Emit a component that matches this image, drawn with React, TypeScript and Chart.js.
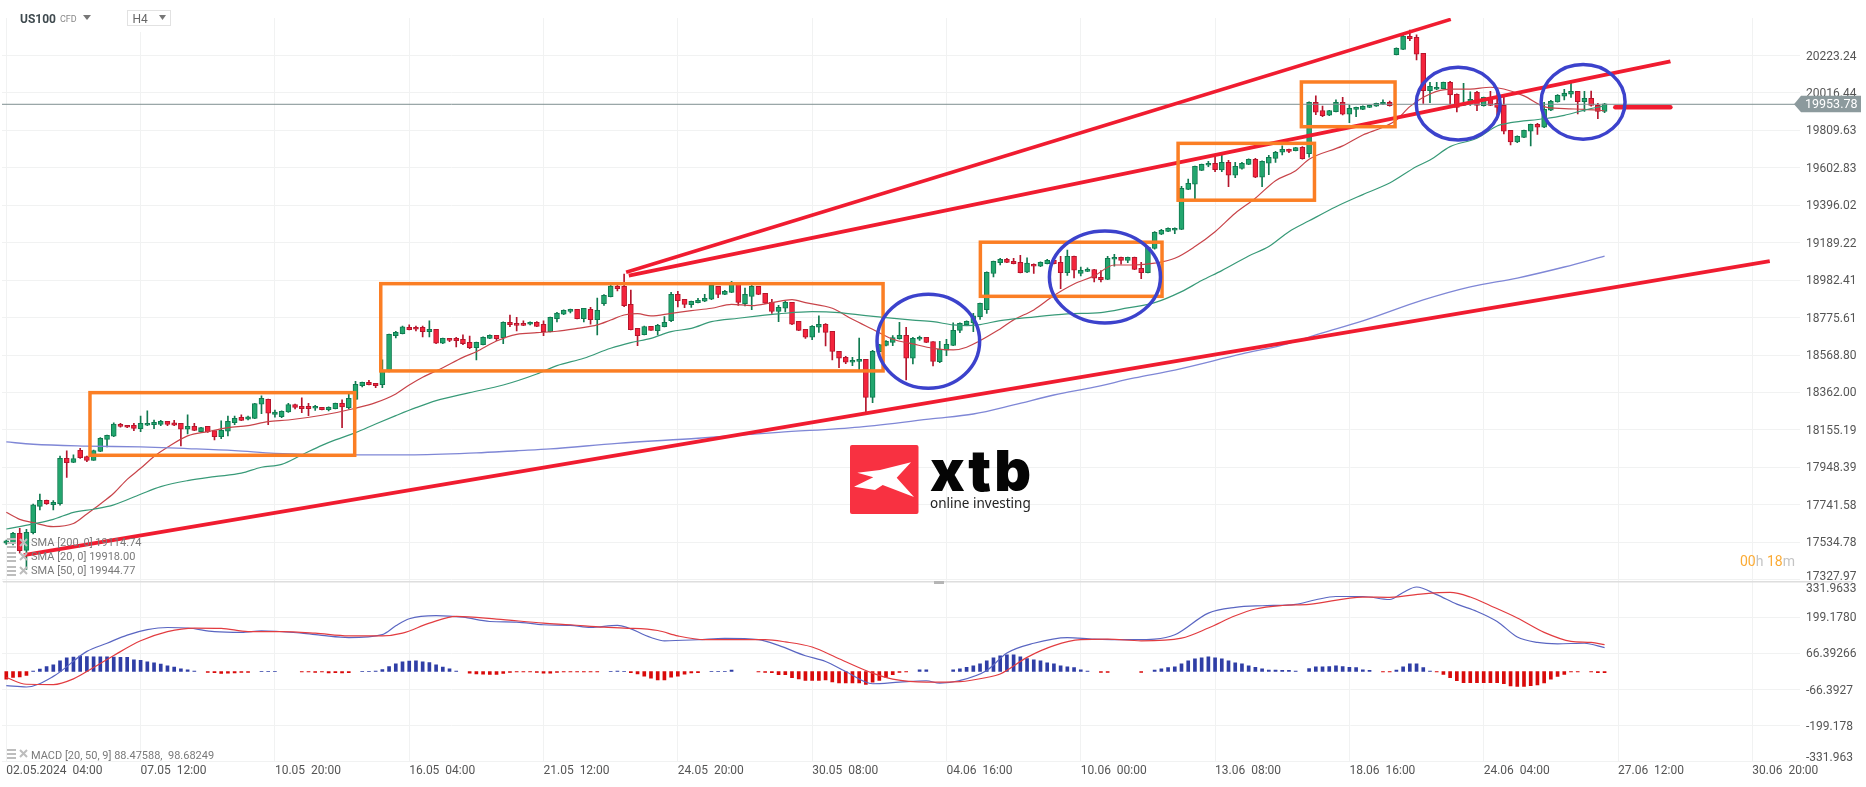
import React, { useEffect, useRef } from 'react';
import { Chart, registerables } from 'chart.js';

Chart.register(...registerables);

// ===== candles (H4, one entry per bar) =====

const opens = [
  17529,17533,17584,17490,17588,17733,17766,17742,17748,17998,
  17976,18043,18008,17987,18037,18103,18120,18186,18181,18181,
  18162,18181,18184,18186,18203,18194,18192,18159,18175,18146,
  18175,18151,18118,18148,18195,18225,18214,18219,18297,18324,
  18241,18228,18254,18295,18286,18286,18275,18280,
  18267,18273,18302,18278,18324,18400,18418,18413,18405,18477,18676,18687,
  18722,18722,18722,18698,18711,18634,18661,18661,18656,18639,
  18610,18626,18661,18678,18665,18750,18744,18744,18739,18750,
  18739,18698,18770,18794,18810,18821,18770,18821,18764,18853,
  18891,18948,18948,18849,18716,18681,
  18727,18704,18726,18759,
  18904,18877,18847,18858,18866,18877,18948,18904,18915,18965,
  18853,18893,18948,18910,18860,18810,18827,18860,18755,18711,
  18667,18722,18739,18700,18589,18556,18529,18534,18545,18335,
  18588,18622,18639,18659,18678,18551,18656,18667,18643,18532,
  18595,18622,18705,18737,
  18746,18781,18820,19019,19079,19098,19087,19081,19026,19070,
  19059,19074,19092,19081,19024,19114,19019,19031,19041,18998,
  18987,19098,19109,19092,19109,19048,19024,19158,19236,19252,
  19258,19263,19484,19512,19589,19617,19628,19591,19633,19562,
  19600,19622,19650,19551,19628,19655,19689,19705,19698,
  19716,19681,19965,19919,19893,19913,19965,19899,19926,19926,
  19937,19944,19954,19965,20228,20257,20329,20324,20235,20029,
  20037,20040,20075,20009,19948,19959,20020,19946,19992,19959,
  19948,19810,19746,19771,19805,19843,19827,19921,19967,19998,
  20009,20026,19968,19987,19948,19915,
];

const highs = [
  17547,17590,17612,17606,17746,17801,17768,17765,18011,18039,
  18017,18054,18011,18044,18113,18127,18194,18192,18181,18192,
  18232,18260,18210,18208,18203,18208,18192,18238,18192,18170,
  18175,18151,18205,18232,18232,18238,18232,18302,18343,18326,
  18265,18260,18302,18298,18332,18302,18291,18280,
  18282,18304,18321,18354,18424,18420,18429,18413,18542,18685,18700,18729,
  18735,18729,18729,18757,18711,18663,18661,18667,18680,18674,
  18641,18669,18680,18678,18752,18790,18777,18757,18752,18753,
  18757,18779,18805,18818,18823,18821,18827,18832,18884,18902,
  18956,18954,19016,18928,18716,18728,
  18727,18739,18781,18915,
  18921,18877,18867,18882,18904,18956,18948,18926,18976,18965,
  18939,18954,18948,18910,18877,18843,18866,18860,18755,18711,
  18731,18785,18742,18700,18589,18562,18556,18663,18545,18595,
  18628,18648,18676,18750,18722,18667,18674,18667,18643,18645,
  18656,18746,18746,18757,
  18799,18856,19028,19088,19103,19103,19103,19120,19105,19072,
  19083,19098,19103,19114,19149,19116,19054,19050,19042,19035,
  19114,19125,19110,19110,19110,19081,19166,19250,19263,19271,
  19271,19501,19540,19613,19624,19639,19672,19678,19644,19633,
  19633,19652,19655,19641,19672,19694,19724,19707,19716,
  19720,19967,20000,19944,19921,19978,19992,19950,19939,19945,
  19950,19961,19978,19972,20265,20337,20364,20337,20235,20075,
  20075,20077,20081,20011,20070,20022,20025,19994,20025,20025,
  19992,19810,19779,19812,19845,19849,19965,19976,20007,20037,
  20075,20026,20026,20027,19959,19959,
];

const lows = [
  17523,17520,17474,17385,17580,17713,17744,17713,17739,17893,
  17974,17998,17980,17986,18035,18061,18118,18170,18168,18151,
  18146,18179,18162,18179,18179,18179,18067,18133,18151,18144,
  18142,18100,18107,18122,18184,18206,18210,18217,18245,18184,
  18225,18223,18252,18271,18251,18234,18263,18265,
  18260,18271,18168,18271,18324,18392,18403,18389,18389,18475,18663,18685,
  18707,18702,18669,18669,18632,18632,18643,18613,18626,18604,
  18542,18624,18659,18648,18632,18726,18702,18731,18735,18726,
  18676,18696,18751,18792,18801,18768,18751,18739,18680,18843,
  18890,18923,18836,18707,18621,18680,
  18705,18680,18724,18753,
  18834,18831,18832,18856,18864,18875,18886,18902,18913,18843,
  18840,18820,18902,18853,18799,18753,18807,18737,18703,18661,
  18654,18693,18619,18542,18499,18521,18510,18486,18256,18306,
  18586,18619,18621,18657,18431,18519,18650,18637,18508,18527,
  18565,18620,18692,18731,
  18698,18766,18798,19000,19066,19079,19072,19022,19024,19019,
  19057,19072,19072,18936,19009,18995,19006,19029,18972,18972,
  18985,19059,19070,19079,19040,18991,19022,19153,19234,19250,
  19239,19261,19482,19431,19587,19609,19582,19582,19499,19549,
  19595,19620,19549,19499,19565,19633,19674,19687,19696,
  19650,19661,19897,19886,19891,19911,19895,19852,19886,19924,
  19935,19942,19952,19944,20226,20255,20305,20199,19959,19963,
  20035,20038,19954,19911,19946,19948,19919,19944,19946,19867,
  19790,19729,19742,19769,19724,19788,19825,19919,19965,19978,
  19992,19900,19915,19943,19874,19908,
];

const closes = [
  17542,17584,17488,17590,17741,17766,17748,17755,17998,17974,
  17997,18002,17986,18041,18109,18125,18188,18175,18170,18164,
  18192,18192,18197,18203,18186,18181,18159,18175,18153,18168,
  18144,18118,18153,18203,18219,18208,18227,18300,18330,18247,
  18254,18258,18295,18280,18273,18273,18286,18267,
  18280,18302,18282,18330,18407,18418,18405,18400,18477,18683,18694,18724,
  18709,18711,18698,18711,18634,18661,18650,18648,18632,18610,
  18639,18667,18678,18659,18750,18737,18733,18733,18750,18727,
  18698,18777,18801,18816,18821,18770,18827,18764,18816,18899,
  18950,18936,18842,18709,18676,18726,
  18705,18733,18750,18904,
  18869,18849,18866,18871,18882,18954,18904,18921,18959,18860,
  18904,18948,18904,18855,18810,18832,18860,18739,18705,18667,
  18727,18739,18694,18589,18551,18529,18540,18545,18335,18589,
  18626,18645,18665,18678,18551,18661,18667,18639,18534,18600,
  18628,18705,18744,18755,
  18785,18855,19026,19087,19098,19081,19074,19024,19076,19059,
  19081,19092,19074,19024,19114,19037,19037,19042,18993,18985,
  19103,19109,19092,19109,19042,19024,19164,19247,19258,19269,
  19269,19490,19517,19611,19622,19628,19593,19633,19562,19611,
  19628,19650,19551,19639,19661,19689,19705,19694,19714,
  19654,19965,19910,19891,19919,19965,19899,19932,19937,19943,
  19948,19959,19965,19946,20263,20331,20316,20230,20029,20053,
  20048,20075,20005,19937,19959,19981,19948,19992,19948,19937,
  19805,19746,19777,19810,19843,19827,19926,19970,20003,20014,
  20026,19968,19987,19948,19915,19957,
];

// ===== moving averages, read at the bars named in the *Bars arrays =====

const sma20Bars = [0,2,4,7,10,12,14,16,18,20,22,24,27,30,33,36,39,42,47,52,55,58,60,62,65,68,70,73,76,79,82,85,88,90,92,94,96,99,102,105,108,111,114,117,119,123,126,129,132,135,138,141,143,148,150,153,156,159,162,165,168,171,174,177,180,183,186,189,192,194,199,202,205,207,209,212,215,218,221,223,226,229,232,235,238];
const sma20 = [17700,17661,17643,17621,17638,17691,17746,17805,17882,17943,18008,18059,18122,18146,18168,18179,18201,18210,18236,18275,18306,18354,18403,18446,18499,18556,18587,18646,18683,18692,18700,18716,18735,18762,18790,18797,18785,18799,18814,18827,18849,18842,18858,18875,18858,18827,18766,18711,18656,18630,18606,18597,18612,18713,18763,18818,18897,18961,19006,19066,19066,19076,19103,19168,19250,19352,19435,19532,19587,19650,19724,19784,19827,19867,19941,20011,20037,20038,20048,20038,20000,19941,19930,19926,19918];

const sma50Bars = [0,4,7,10,13,16,20,23,27,31,35,38,41,44,47,49,52,55,58,61,64,69,74,79,82,86,90,93,96,99,102,105,109,112,115,120,124,128,131,135,138,141,143,145,148,152,158,163,167,171,175,178,181,185,188,191,194,198,202,206,210,212,215,219,222,224,229,232,235,238];
const sma50 = [17608,17636,17661,17700,17717,17741,17800,17842,17875,17897,17916,17949,17965,18017,18070,18100,18140,18188,18234,18278,18317,18361,18403,18464,18510,18551,18606,18637,18661,18698,18716,18753,18772,18785,18796,18808,18803,18786,18775,18762,18753,18735,18731,18737,18759,18775,18796,18803,18829,18858,18919,18980,19035,19116,19168,19250,19310,19388,19455,19519,19610,19646,19720,19766,19834,19852,19874,19893,19922,19945];

const sma200Bars = [0,4,12,20,27,34,40,47,52,60,70,76,81,91,103,115,127,138,144,150,156,162,168,174,184,190,196,202,211,218,225,232,238];
const sma200 = [18089,18076,18066,18061,18052,18041,18026,18019,18017,18017,18028,18040,18050,18081,18109,18142,18171,18217,18243,18293,18348,18392,18442,18486,18575,18624,18691,18757,18873,18945,18994,19055,19115];

// ===== MACD pane =====

const histogram = [
  -28,-22,-20,-14,2,9,18,25,39,50,
  53,57,55,54,54,54,53,52,52,43,
  41,36,32,27,21,16,10,6,2,0,
  -3,-4,-7,-6,-5,-3,-3,0,1,1,
  1,0,0,0,-2,-2,-3,-2,-5,-4,
  -5,-4,0,1,1,2,7,18,28,36,
  38,39,36,33,25,16,10,2,0,-6,
  -9,-10,-11,-11,-7,-3,-2,-2,-2,-3,
  -6,-6,-3,-2,-2,-2,-2,-2,-2,0,
  1,2,1,-4,-9,-17,-25,-31,-31,-21,
  -17,-10,-5,-4,0,1,1,1,5,0,
  0,0,-2,-3,-4,-12,-12,-23,-27,-33,
  -33,-33,-31,-38,-42,-42,-42,-42,-48,-39,
  -33,-22,-12,-3,-2,0,6,6,0,0,
  0,6,10,15,21,28,39,50,58,61,
  61,54,48,43,39,32,28,21,17,14,
  6,2,0,-3,-3,0,0,0,0,-3,
  0,5,10,14,17,28,39,47,50,54,
  50,47,39,32,28,21,15,10,5,5,
  4,4,2,0,11,17,17,18,21,18,
  15,14,6,4,0,-2,-2,5,17,28,
  28,14,2,-2,-11,-23,-34,-41,-41,-41,
  -41,-41,-41,-45,-53,-55,-55,-52,-49,-42,
  -28,-18,-11,-2,-2,0,-2,-4,-4,
];

const macdBars = [0,3,7,12,15,18,21,24,27,31,35,38,44,47,51,56,58,60,64,68,72,76,80,84,87,91,96,98,103,107,112,115,119,122,125,129,133,137,139,142,146,149,153,158,162,168,171,174,179,183,187,192,195,198,202,206,208,210,213,216,219,222,225,228,231,235,238];
const macdLine = [-52,-57,-18,74,104,134,154,162,160,147,144,150,141,133,125,136,168,194,206,200,184,182,172,170,162,170,125,113,117,122,117,96,58,37,0,-45,-39,-34,-43,-33,4,68,104,125,119,117,119,135,215,236,242,247,264,276,276,265,291,311,283,248,221,184,127,107,102,104,88];

const signalBars = [0,3,7,10,13,16,20,24,28,32,36,41,46,51,56,59,63,67,73,80,84,89,92,97,100,104,113,116,120,124,129,132,137,142,146,148,152,156,160,164,169,175,179,183,186,190,194,202,206,211,215,218,221,225,229,233,236,238];
const signalLine = [-22,-47,-48,-27,15,59,113,147,160,159,147,147,141,131,131,141,178,203,193,178,172,163,160,151,131,117,117,109,90,47,-6,-28,-39,-37,-22,-9,52,95,117,119,113,123,160,205,230,243,247,274,273,286,291,274,242,197,144,111,107,99];

// ===== axes =====

const priceTicks = [20223.24,20016.44,19809.63,19602.83,19396.02,19189.22,18982.41,18775.61,18568.80,18362.00,18155.19,17948.39,17741.58,17534.78,17327.97];
const macdTicks = [331.9633,199.1780,66.39266,-66.3927,-199.178,-331.963];
const macdTickLabels = ['331.9633','199.1780','66.39266','-66.3927','-199.178','-331.963'];
const dateTickBars = [0,20,40,60,80,100,120,140,160,180,200,220,240,260];
const dateTickLabels = ['02.05.2024  04:00','07.05  12:00','10.05  20:00','16.05  04:00','21.05  12:00','24.05  20:00','30.05  08:00','04.06  16:00','10.06  00:00','13.06  08:00','18.06  16:00','24.06  04:00','27.06  12:00','30.06  20:00'];
const lastPrice = 19953.78;

// ===== drawn analysis: trend lines, boxes, circles (bar index / price) =====

const trendUpper = [[92.3,19026],[215.1,20423]];
const trendMiddle = [[92.7,19007],[247.8,20191]];
const trendLower = [[2.6,17464],[262.6,19088]];
const flatMarker = [[239.6,19937],[247.8,19937]];
const orangeBoxes = [
  [12.46,18361,51.88,18015],
  [55.76,18963,130.56,18481],
  [145.05,19192,172.1,18893],
  [174.49,19738,194.8,19424],
  [192.85,20077,206.8,19830],
];
const blueCircles = [
  [137.3,18645,7.64,260],
  [163.6,19000,8.27,254],
  [216.2,19957,6.25,201],
  [234.8,19967,6.25,206],
];
const legendLines = ['SMA [200, 0] 19114.74','SMA [20, 0] 19918.00','SMA [50, 0] 19944.77'];

const FONT = 'Roboto';
const GREEN = '#22a66e';
const GREEN_DARK = '#107a50';
const RED = '#f4243c';
const RED_DARK = '#b5152c';
const TREND = '#f01c30';

const pts = (bars: number[], vals: number[]) => bars.map((b, i) => ({ x: b, y: vals[i] }));
const pairs = (p: number[][]) => p.map(([x, y]) => ({ x, y }));
const bars = opens.map((_, i) => i);

const lineDs = (data: any[], color: string, width: number, order: number, yAxisID = 'y', extra: any = {}) => ({
  type: 'line' as const,
  data,
  yAxisID,
  order,
  borderColor: color,
  borderWidth: width,
  pointRadius: 0,
  cubicInterpolationMode: 'monotone' as const,
  ...extra,
});

// boxes and circles go on top of the series
const overlayPlugin = {
  id: 'overlay',
  afterLayout(chart: any) {
    // the price axis has no width of its own, but its labels are clipped to its box
    chart.scales.y.right = chart.width;
  },
  afterDatasetsDraw(chart: any) {
    const { ctx, scales } = chart;
    const x = scales.x;
    const y = scales.y;
    ctx.save();
    ctx.strokeStyle = '#fb7e24';
    ctx.lineWidth = 3.5;
    ctx.lineJoin = 'miter';
    orangeBoxes.forEach(([x0, p0, x1, p1]) => {
      const l = x.getPixelForValue(x0);
      const t = y.getPixelForValue(p0);
      ctx.strokeRect(l, t, x.getPixelForValue(x1) - l, y.getPixelForValue(p1) - t);
    });
    ctx.strokeStyle = '#3c42cc';
    blueCircles.forEach(([cx, cp, rx, rp]) => {
      const px = x.getPixelForValue(cx);
      const py = y.getPixelForValue(cp);
      ctx.beginPath();
      ctx.ellipse(px, py, x.getPixelForValue(cx + rx) - px, py - y.getPixelForValue(cp + rp), 0, 0, Math.PI * 2);
      ctx.stroke();
    });
    ctx.restore();
  },
};

function triangle(ctx: CanvasRenderingContext2D, x: number, y: number, w: number, h: number, color: string) {
  ctx.fillStyle = color;
  ctx.beginPath();
  ctx.moveTo(x, y);
  ctx.lineTo(x + w, y);
  ctx.lineTo(x + w / 2, y + h);
  ctx.closePath();
  ctx.fill();
}

function legendIcons(ctx: CanvasRenderingContext2D, y: number) {
  ctx.fillStyle = '#bdbdbd';
  ctx.fillRect(7, y - 5, 9, 2);
  ctx.fillRect(7, y - 1, 9, 2);
  ctx.fillRect(7, y + 3, 9, 2);
  ctx.strokeStyle = '#bdbdbd';
  ctx.lineWidth = 2;
  ctx.beginPath();
  ctx.moveTo(20, y - 4);
  ctx.lineTo(27, y + 3);
  ctx.moveTo(27, y - 4);
  ctx.lineTo(20, y + 3);
  ctx.stroke();
}

// header, legends, price tag, countdown, logo
const chromePlugin = {
  id: 'chrome',
  afterDraw(chart: any) {
    const { ctx, scales } = chart;
    ctx.save();
    ctx.textBaseline = 'middle';
    ctx.textAlign = 'left';

    // header
    ctx.fillStyle = '#fff';
    ctx.fillRect(128, 8, 44, 24);
    ctx.fillStyle = '#3f4a4f';
    ctx.font = `bold 12px ${FONT}`;
    ctx.fillText('US100', 20, 20);
    ctx.fillStyle = '#888';
    ctx.font = `9px ${FONT}`;
    ctx.fillText('CFD', 60, 20);
    triangle(ctx, 83, 15, 8, 5, '#777');
    ctx.strokeStyle = '#e2e2e2';
    ctx.lineWidth = 1;
    ctx.strokeRect(127.5, 10.5, 43, 15);
    ctx.fillStyle = '#666';
    ctx.font = `12px ${FONT}`;
    ctx.fillText('H4', 132.5, 20);
    triangle(ctx, 159, 15, 7, 5, '#777');

    // pane separator and its handle
    ctx.fillStyle = '#dedede';
    ctx.fillRect(3, 581, 1850, 1.5);
    ctx.fillStyle = '#b5b5b5';
    ctx.fillRect(934, 581, 10, 3);

    // axis labels that sit inside the pane edges
    ctx.fillStyle = '#555';
    ctx.font = `12px ${FONT}`;
    ctx.fillText('17327.97', 1806, 577);
    ctx.fillText(macdTickLabels[0], 1806, 589);
    ctx.fillText(macdTickLabels[5], 1806, 758);

    // indicator legends
    ctx.font = `11px ${FONT}`;
    legendLines.forEach((t, i) => {
      const ly = 543 + i * 14;
      legendIcons(ctx, ly);
      ctx.fillStyle = '#7a7a7a';
      ctx.fillText(t, 31, ly);
    });
    legendIcons(ctx, 754);
    ctx.fillStyle = '#7a7a7a';
    ctx.fillText('MACD [20, 50, 9] 88.47588,  98.68249', 31, 756);

    // last price tag
    const py = scales.y.getPixelForValue(lastPrice);
    ctx.fillStyle = '#8c9a9d';
    ctx.beginPath();
    ctx.moveTo(1794, py);
    ctx.lineTo(1801, py - 8.5);
    ctx.lineTo(1861, py - 8.5);
    ctx.lineTo(1861, py + 8);
    ctx.lineTo(1801, py + 8);
    ctx.closePath();
    ctx.fill();
    ctx.fillStyle = '#fff';
    ctx.font = `12.5px ${FONT}`;
    ctx.fillText(lastPrice.toFixed(2), 1805, py + 1);

    // countdown
    ctx.font = `14px ${FONT}`;
    let cx = 1740;
    [['00', '#fbab35'], ['h ', '#c4c4c4'], ['18', '#fbab35'], ['m', '#c4c4c4']].forEach(([t, c]) => {
      ctx.fillStyle = c;
      ctx.fillText(t, cx, 562);
      cx += ctx.measureText(t).width;
    });

    // logo
    ctx.fillStyle = '#f83141';
    ctx.beginPath();
    ctx.roundRect(850, 445, 68.5, 69, 2);
    ctx.fill();
    ctx.fillStyle = '#fff';
    ctx.beginPath();
    [[911,462.3],[880,470],[857.3,472.7],[873.3,477.3],[854,486.7],[875,490],[882.7,485],[914,497],[896.7,477.7]].forEach(([lx, ly], i) => {
      if (i === 0) ctx.moveTo(lx, ly);
      else ctx.lineTo(lx, ly);
    });
    ctx.closePath();
    ctx.fill();
    ctx.fillStyle = '#050505';
    ctx.textBaseline = 'alphabetic';
    ctx.font = '900 57px Inter';
    (ctx as any).letterSpacing = '3px';
    ctx.fillText('xtb', 930, 491);
    (ctx as any).letterSpacing = '0px';
    ctx.font = '13.5px "Noto Sans"';
    ctx.fillStyle = '#222';
    ctx.fillText('online investing', 930, 508);
    ctx.restore();
  },
};

export default function App() {
  const canvasRef = useRef<HTMLCanvasElement>(null);

  useEffect(() => {
    if (!canvasRef.current) return;
    const ctx = canvasRef.current.getContext('2d');
    if (!ctx) return;

    const up = bars.map(i => closes[i] >= opens[i]);

    const chart = new Chart(ctx, {
      type: 'bar',
      data: {
        datasets: [
          {
            data: bars.map(i => ({ x: i, y: [lows[i], highs[i]] })),
            yAxisID: 'y',
            order: 7,
            barThickness: 1,
            grouped: false,
            backgroundColor: up.map(u => (u ? GREEN_DARK : RED_DARK)),
          },
          {
            data: bars.map(i => ({ x: i, y: [opens[i], closes[i]] })),
            yAxisID: 'y',
            order: 6,
            barThickness: 5,
            grouped: false,
            borderWidth: 1,
            borderSkipped: false,
            backgroundColor: up.map(u => (u ? GREEN : RED)),
            borderColor: up.map(u => (u ? GREEN_DARK : RED_DARK)),
          },
          lineDs(pts(sma200Bars, sma200), '#7f87d6', 1.3, 5),
          lineDs(pts(sma50Bars, sma50), '#389a78', 1.2, 5),
          lineDs(pts(sma20Bars, sma20), '#c8444a', 1.2, 5),
          lineDs([{ x: -0.64, y: lastPrice }, { x: 267.1, y: lastPrice }], '#7f8f90', 1, 4, 'y', { cubicInterpolationMode: 'default', tension: 0 }),
          lineDs(pairs(trendUpper), TREND, 3.6, 3),
          lineDs(pairs(trendMiddle), TREND, 3.8, 3),
          lineDs(pairs(trendLower), TREND, 3.8, 3),
          lineDs(pairs(flatMarker), TREND, 4.5, 3, 'y', { borderCapStyle: 'round' }),
          {
            data: bars.map(i => ({ x: i, y: histogram[i] === 0 ? null : histogram[i] })),
            yAxisID: 'm',
            order: 6,
            barThickness: 3,
            grouped: false,
            backgroundColor: histogram.map(v => (v >= 0 ? '#2f3ea6' : '#d90a0a')),
          },
          lineDs(pts(macdBars, macdLine), '#5a66c2', 1.2, 2, 'm'),
          lineDs(pts(signalBars, signalLine), '#e23c40', 1.2, 1, 'm'),
        ] as any,
      },
      options: {
        responsive: false,
        animation: false,
        devicePixelRatio: 1,
        layout: { padding: { top: 18, left: 2, right: 0, bottom: 0 } },
        plugins: { legend: { display: false }, tooltip: { enabled: false } },
        scales: {
          x: {
            type: 'linear',
            offset: false,
            min: -0.64,
            max: 267.1,
            border: { display: false },
            grid: { color: '#f1f2f2', drawTicks: false, offset: false },
            afterBuildTicks: (s: any) => { s.ticks = dateTickBars.map(v => ({ value: v })); },
            afterFit: (s: any) => { s.height = 25.3; },
            ticks: {
              autoSkip: false,
              maxRotation: 0,
              align: 'start',
              padding: 2,
              color: '#555',
              font: { family: FONT, size: 12 },
              callback: (v: any) => dateTickLabels[dateTickBars.indexOf(Number(v))] ?? '',
            },
          },
          // both value axes span the whole plot; their ranges put each one in its own pane
          y: {
            type: 'linear',
            position: 'right',
            weight: 0,
            min: 16322.5,
            max: 20430.4,
            border: { display: false },
            grid: { color: '#f1f2f2', drawTicks: false },
            afterBuildTicks: (s: any) => { s.ticks = priceTicks.map(v => ({ value: v })); },
            afterFit: (s: any) => { s.width = 0; },
            ticks: {
              autoSkip: false,
              padding: 6,
              labelOffset: 1,
              color: '#555',
              font: { family: FONT, size: 12 },
              callback: (v: any) => (Number(v) === priceTicks[14] ? '' : Number(v).toFixed(2)),
            },
          },
          m: {
            type: 'linear',
            position: 'right',
            weight: 1,
            min: -331.963,
            max: 2405.1,
            border: { display: false },
            grid: { color: '#f1f2f2', drawTicks: false },
            afterBuildTicks: (s: any) => { s.ticks = macdTicks.map(v => ({ value: v })); },
            afterFit: (s: any) => { s.width = 66; },
            ticks: {
              autoSkip: false,
              padding: 6,
              labelOffset: 1,
              color: '#555',
              font: { family: FONT, size: 12 },
              callback: (v: any) => {
                const i = macdTicks.indexOf(Number(v));
                return i === 0 || i === 5 ? '' : macdTickLabels[i];
              },
            },
          },
        },
      } as any,
      plugins: [overlayPlugin, chromePlugin],
    });

    return () => chart.destroy();
  }, []);

  return (
    <canvas
      ref={canvasRef}
      width={1866}
      height={787}
      style={{ position: 'absolute', left: 0, top: 0, width: 1866, height: 787, background: '#fff' }}
    />
  );
}
